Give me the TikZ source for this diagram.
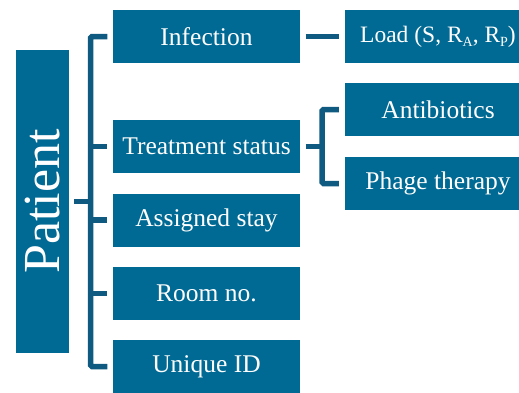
\documentclass[tikz,border=0pt]{standalone}
\usepackage{fontspec}
\setmainfont{Liberation Serif}
\definecolor{boxblue}{RGB}{0,106,148}
\definecolor{linkblue}{RGB}{14,90,128}
% small lowered index letter, as in R_A
\newcommand{\lowidx}[1]{\raisebox{-4.5pt}{\fontsize{14}{14}\selectfont #1}}
\begin{document}
\begin{tikzpicture}[x=1pt,y=-1pt,
  item/.style={fill=boxblue, text=white, inner sep=0pt,
    minimum width=187pt, minimum height=53pt,
    font=\fontsize{25.5}{28}\selectfont},
  sub/.style={item, minimum width=186pt},
  root/.style={fill=boxblue, text=white, inner sep=0pt, rotate=90,
    minimum width=303pt, minimum height=53pt,
    font=\fontsize{52}{56}\selectfont},
  link/.style={draw=linkblue, line width=5.5pt, rounded corners=1.5pt}]

\useasboundingbox (0,0) rectangle (519,392);
\clip (0,0) rectangle (519,392);

% root of the tree
\node[root] (patient) at (42.5,201.5) {Patient};

% attributes of a patient
\node[item] (infection) at (206.5,36.5)  {Infection};
\node[item] (treat)     at (206.5,146.5) {Treatment status};
\node[item] (stay)      at (206.5,220)   {Assigned stay};
\node[item] (room)      at (206.5,293.5) {Room no.};
\node[item] (uid)       at (206.5,366.5) {Unique ID};

% second level
\node[sub, font=\fontsize{23.5}{26}\selectfont] (load) at (438,36.5)
  {Load (S, R\lowidx{A}, R\lowidx{P})};
\node[sub] (anti)  at (438,109.5) {Antibiotics};
\node[sub] (phage) at (438,183.5) {Phage therapy};

% bracket from the root to its attributes
\coordinate (trunk) at (90.5,0);
\draw[link] ([xshift=5pt]patient.south) -- (trunk |- patient.south);
\draw[link] ([xshift=-5.5pt]infection.west) -- (trunk |- infection.west)
  -- (trunk |- uid.west) -- ([xshift=-5.5pt]uid.west);
\foreach \n in {treat,stay,room}
  \draw[link] (trunk |- \n.west) -- ([xshift=-5.5pt]\n.west);

% infection to its load
\draw[link] ([xshift=5.5pt]infection.east) -- ([xshift=-6pt]load.west);

% bracket from treatment status to the therapies
\coordinate (fork) at (322,0);
\draw[link] ([xshift=5.5pt]treat.east) -- (fork |- treat.east);
\draw[link] ([xshift=-6pt]anti.west) -- (fork |- anti.west)
  -- (fork |- phage.west) -- ([xshift=-6pt]phage.west);
\end{tikzpicture}
\end{document}
